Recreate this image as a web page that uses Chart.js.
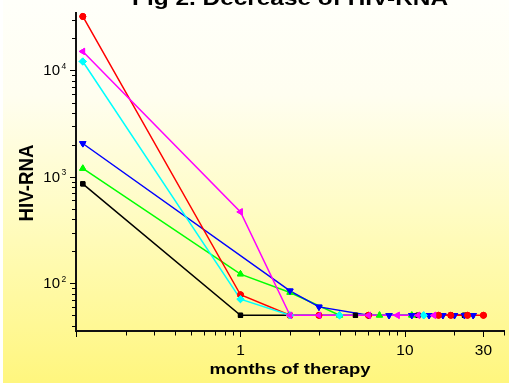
<!DOCTYPE html>
<html>
<head>
<meta charset="utf-8">
<script src="https://cdn.jsdelivr.net/npm/chart.js@4/dist/chart.umd.min.js"></script>
<style>
  html, body { margin: 0; padding: 0; width: 509px; height: 383px; overflow: hidden; background: #fff; }
  canvas { display: block; }
</style>
</head>
<body>
<canvas id="c" width="509" height="383"></canvas>
<script>
// Viral load (copies/ml) per patient over months of therapy
const redMonths     = [0.11, 1, 2, 3, 6, 16, 19, 24, 30];
const redRNA        = [32200, 78, 50, 50, 50, 50, 50, 50, 50];
const magentaMonths = [0.11, 1, 2, 3, 6, 9, 12, 15];
const magentaRNA    = [15100, 469, 50, 50, 50, 50, 50, 50];
const cyanMonths    = [0.11, 1, 2, 4, 13];
const cyanRNA       = [12150, 71, 50, 50, 50];
const blueMonths    = [0.11, 2, 3, 6, 8, 11, 14, 17, 20, 23, 26];
const blueRNA       = [2060, 85, 60, 50, 50, 50, 50, 50, 50, 50, 50];
const greenMonths   = [0.11, 1, 2, 4, 7, 11];
const greenRNA      = [1200, 122, 82, 50, 50, 50];
const blackMonths   = [0.11, 1, 5, 12, 19, 23];
const blackRNA      = [860, 50, 50, 50, 50, 50];

// Axis labelling
const xLabelValues  = [1, 10, 30];
const xLabelTexts   = ['1', '10', '30'];
const yLabelExps    = [2, 3, 4];
const titleText     = 'Fig 2. Decrease of HIV-RNA';
const xTitleText    = 'months of therapy';
const yTitleText    = 'HIV-RNA';

const pts = (xs, ys) => xs.map((x, i) => ({ x, y: ys[i] }));

function series(label, xs, ys, color, style, rotation, radius) {
  return {
    label,
    data: pts(xs, ys),
    borderColor: color,
    backgroundColor: color,
    borderWidth: 1.5,
    tension: 0,
    pointStyle: style,
    rotation: rotation,
    pointRadius: radius,
    pointBorderWidth: 1,
    pointBorderColor: color,
    pointBackgroundColor: color,
    clip: false
  };
}

// first dataset is painted last (on top)
const datasets = [
  series('P1', magentaMonths, magentaRNA, '#ff00ff', 'triangle', -90, 3.6),
  series('P2', cyanMonths, cyanRNA, '#00ffff', 'rectRot', 0, 3.6),
  series('P3', redMonths, redRNA, '#ff0000', 'circle', 0, 3),
  series('P4', blueMonths, blueRNA, '#0000ff', 'triangle', 180, 3.6),
  series('P5', greenMonths, greenRNA, '#00ff00', 'triangle', 0, 3.6),
  series('P6', blackMonths, blackRNA, '#000000', 'rect', 0, 3)
];

// page background: pale at the top, deepening to yellow at the bottom
const backdrop = {
  id: 'backdrop',
  beforeDraw(chart) {
    const { ctx, width, height } = chart;
    ctx.save();
    ctx.fillStyle = '#ffffff';
    ctx.fillRect(0, 0, width, height);
    const g = ctx.createLinearGradient(0, 0, 0, height);
    g.addColorStop(0.00, '#fffffa');
    g.addColorStop(0.25, '#fffef0');
    g.addColorStop(0.55, '#fffcc4');
    g.addColorStop(1.00, '#fff67e');
    ctx.fillStyle = g;
    ctx.fillRect(3, 0, width - 3, height);
    ctx.restore();
  }
};

// markers sit above every line
const markersOnTop = {
  id: 'markersOnTop',
  afterDatasetsDraw(chart) {
    const ctx = chart.ctx;
    for (let i = chart.data.datasets.length - 1; i >= 0; i--) {
      const meta = chart.getDatasetMeta(i);
      meta.data.forEach(p => p.draw(ctx, chart.chartArea));
    }
  }
};

function drawText(ctx, text, x, y, font, targetWidth, align, baseline, rotated) {
  ctx.save();
  ctx.font = font;
  const w = ctx.measureText(text).width;
  const sx = targetWidth ? targetWidth / w : 1;
  ctx.translate(x, y);
  if (rotated) {
    ctx.scale(1, 1);
    ctx.rotate(-Math.PI / 2);
    ctx.scale(targetWidth ? 1 : 1, 1);
  } else {
    ctx.scale(sx, 1);
  }
  ctx.textAlign = align;
  ctx.textBaseline = baseline;
  ctx.fillStyle = '#000';
  ctx.fillText(text, 0, 0);
  ctx.restore();
}

// log tick marks, tick labels and titles
const axisDecor = {
  id: 'axisDecor',
  afterDraw(chart) {
    const ctx = chart.ctx;
    const xs = chart.scales.x, ys = chart.scales.y;
    const { left, bottom } = chart.chartArea;
    ctx.save();
    ctx.strokeStyle = '#000';
    ctx.lineWidth = 1;
    // x ticks
    for (const d of [0.1, 1, 10]) {
      for (let m = 1; m <= 9; m++) {
        const v = +(m * d).toPrecision(3);
        if (v < xs.min || v > xs.max) continue;
        const major = (m === 1) || xLabelValues.includes(v);
        const px = Math.round(xs.getPixelForValue(v)) + 0.5;
        ctx.beginPath();
        ctx.moveTo(px, bottom);
        ctx.lineTo(px, bottom + (major ? 6 : 4.5));
        ctx.stroke();
      }
    }
    // y ticks
    for (const d of [10, 100, 1000, 10000]) {
      for (let m = 1; m <= 9; m++) {
        const v = m * d;
        if (v < ys.min || v > ys.max) continue;
        const py = Math.round(ys.getPixelForValue(v)) + 0.5;
        ctx.beginPath();
        ctx.moveTo(left, py);
        ctx.lineTo(left - (m === 1 ? 6 : 4), py);
        ctx.stroke();
      }
    }
    ctx.restore();

    // x tick labels
    xLabelValues.forEach((v, i) => {
      const px = xs.getPixelForValue(v);
      const txt = xLabelTexts[i];
      drawText(ctx, txt, px, 355, '14px "Liberation Sans", Arial, sans-serif', txt.length * 8.6, 'center', 'alphabetic');
    });
    // y tick labels: 10 with superscript exponent
    yLabelExps.forEach(e => {
      const py = ys.getPixelForValue(Math.pow(10, e));
      drawText(ctx, '10', 60, py + 5, '14px "Liberation Sans", Arial, sans-serif', 16.7, 'right', 'alphabetic');
      drawText(ctx, String(e), 61.5, py - 1.5, '8.5px "Liberation Sans", Arial, sans-serif', 0, 'left', 'alphabetic');
    });

    // x axis title
    drawText(ctx, xTitleText, (xs.left + xs.right) / 2, 374, 'bold 15px "Liberation Sans", Arial, sans-serif', 161, 'center', 'alphabetic');

    // y axis title (rotated, stretched across)
    ctx.save();
    ctx.font = 'bold 18.5px "Liberation Sans", Arial, sans-serif';
    ctx.translate(33.3, 183);
    ctx.scale(1.13, 1);
    ctx.rotate(-Math.PI / 2);
    const yw = ctx.measureText(yTitleText).width;
    ctx.scale(77 / yw, 1);
    ctx.textAlign = 'center';
    ctx.textBaseline = 'alphabetic';
    ctx.fillStyle = '#000';
    ctx.fillText(yTitleText, 0, 0);
    ctx.restore();

    // chart title, mostly above the top edge
    drawText(ctx, titleText, 290, 5, 'bold 20px "Liberation Sans", Arial, sans-serif', 316, 'center', 'alphabetic');
  }
};

new Chart(document.getElementById('c'), {
  type: 'line',
  data: { datasets },
  options: {
    responsive: false,
    animation: false,
    devicePixelRatio: 1,
    layout: { padding: { top: 13, right: 4, left: 0, bottom: 0 } },
    plugins: { legend: { display: false }, tooltip: { enabled: false }, title: { display: false } },
    scales: {
      x: {
        type: 'logarithmic',
        min: 0.1,
        max: 40,
        grid: { display: false },
        border: { display: true, color: '#111', width: 2 },
        ticks: { display: false },
        afterFit: s => { s.height = 52; }
      },
      y: {
        type: 'logarithmic',
        min: 35.6,
        max: 34700,
        grid: { display: false },
        border: { display: true, color: '#111', width: 2 },
        ticks: { display: false },
        afterFit: s => { s.width = 76; }
      }
    }
  },
  plugins: [backdrop, markersOnTop, axisDecor]
});
</script>
</body>
</html>
